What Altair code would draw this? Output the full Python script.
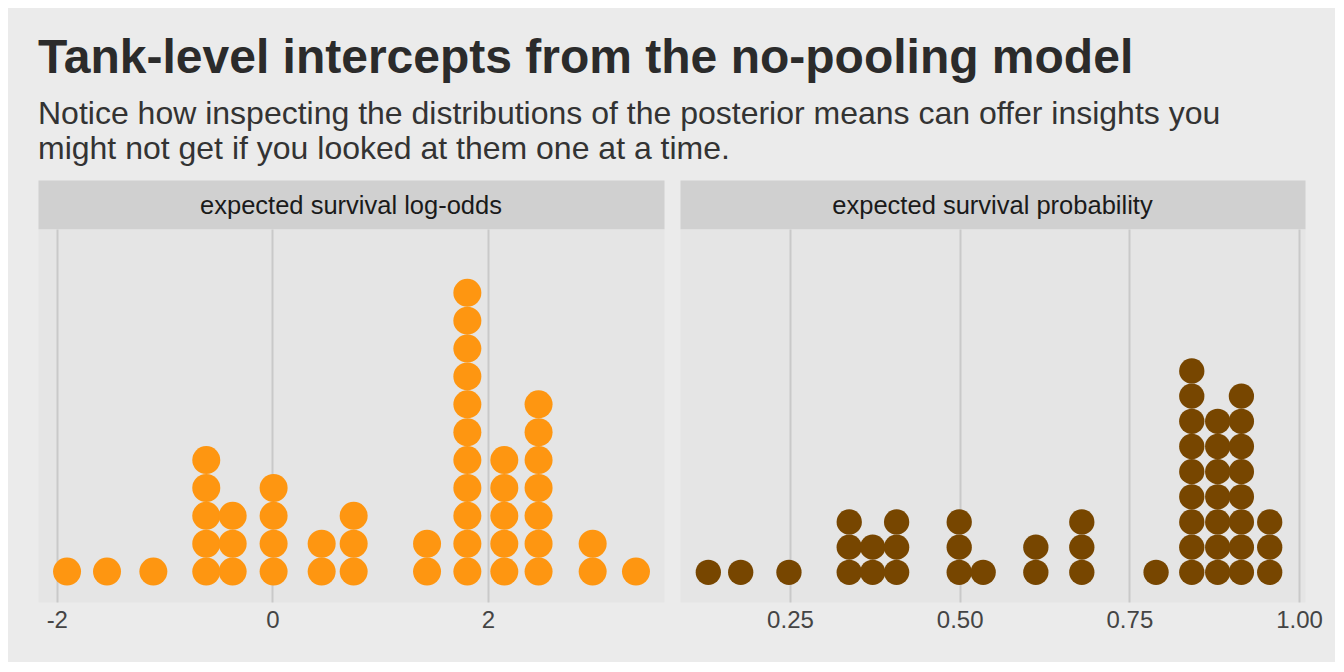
import altair as alt
import pandas as pd

# ---- data (bin centres and stack heights) ----
logodds_centers = [-1.905, -1.534, -1.104, -0.613, -0.368, 0.012, 0.458, 0.755,
                   1.436, 1.810, 2.153, 2.471, 2.973, 3.375]
logodds_counts = [1, 1, 1, 5, 3, 4, 2, 3, 2, 11, 5, 7, 2, 1]

prob_centers = [0.1297, 0.1774, 0.2485, 0.3373, 0.3718, 0.4071, 0.4993, 0.5346,
                0.6122, 0.6799, 0.7893, 0.8419, 0.8801, 0.9150, 0.9567]
prob_counts = [1, 1, 1, 3, 2, 3, 3, 1, 2, 3, 1, 9, 7, 8, 3]

strip_labels = ["expected survival log-odds", "expected survival probability"]
logodds_ticks = [-2, 0, 2]
prob_ticks = [0.25, 0.50, 0.75, 1.00]

title_text = "Tank-level intercepts from the no-pooling model"
subtitle_text = ["Notice how inspecting the distributions of the posterior means can offer insights you",
                 "might not get if you looked at them one at a time."]

ORANGE = "#FE9611"
BROWN = "#774600"
BG = "#EBEBEB"
PANEL = "#E5E5E5"
STRIP = "#D0D0D0"
GRID = "#C9C9C9"
FONT = "Liberation Sans"


def table(centers, counts):
    rows = []
    for c, n in zip(centers, counts):
        rows += [{"value": c}] * n
    return pd.DataFrame(rows)


def strip(label, w, h):
    return alt.Chart(pd.DataFrame({"label": [label]})).mark_text(
        font=FONT, fontSize=25.5, color="#1A1A1A", align="center", baseline="middle"
    ).encode(
        text="label:N", x=alt.value(w / 2), y=alt.value(h / 2 + 1)
    ).properties(width=w, height=h,
                 view=alt.ViewBackground(fill=STRIP, strokeOpacity=0))


def panel(df, color, size, xdom, ydom, ticks, label_expr, w, h):
    return alt.Chart(df).transform_window(
        rn="row_number()", groupby=["value"]
    ).transform_calculate(
        stack="datum.rn - 1"
    ).mark_circle(size=size, color=color, opacity=1).encode(
        x=alt.X("value:Q", scale=alt.Scale(domain=xdom, nice=False, zero=False),
                axis=alt.Axis(values=ticks, labelExpr=label_expr, title=None, grid=True,
                              gridColor=GRID, gridWidth=2, domain=False,
                              ticks=False, tickSize=0, labelPadding=6,
                              labelFontSize=24, labelFont=FONT,
                              labelColor="#444444", labelFlush=False)),
        y=alt.Y("stack:Q", scale=alt.Scale(domain=ydom, nice=False, zero=False), axis=None),
    ).properties(width=w, height=h,
                 view=alt.ViewBackground(fill=PANEL, strokeOpacity=0))


SH = 49
PH = 373
LW = 626
RW = 625

left = alt.vconcat(
    strip(strip_labels[0], LW, SH),
    panel(table(logodds_centers, logodds_counts), ORANGE, 784,
          [-2.1745, 3.635], [-1.09, 12.29], logodds_ticks, "'' + datum.value", LW, PH),
    spacing=0,
)
right = alt.vconcat(
    strip(strip_labels[1], RW, SH),
    panel(table(prob_centers, prob_counts), BROWN, 640,
          [0.088, 1.0087], [-1.18, 13.64], prob_ticks, "format(datum.value, '.2f')", RW, PH),
    spacing=0,
)

chart = alt.hconcat(left, right, spacing=16).properties(
    title=alt.TitleParams(
        text=title_text, subtitle=subtitle_text, anchor="start",
        font=FONT, fontSize=48, fontWeight="bold", color="#2B2B2B",
        subtitleFont=FONT, subtitleFontSize=32, subtitleColor="#333333",
        subtitleLineHeight=35, subtitlePadding=16, offset=15,
    ),
    padding={"left": 30, "top": 27, "right": 12, "bottom": 30},
    background=BG,
).configure_view(strokeOpacity=0).configure_concat(spacing=0)

chart.save("out.html", embed_options={"renderer": "svg", "actions": False})
